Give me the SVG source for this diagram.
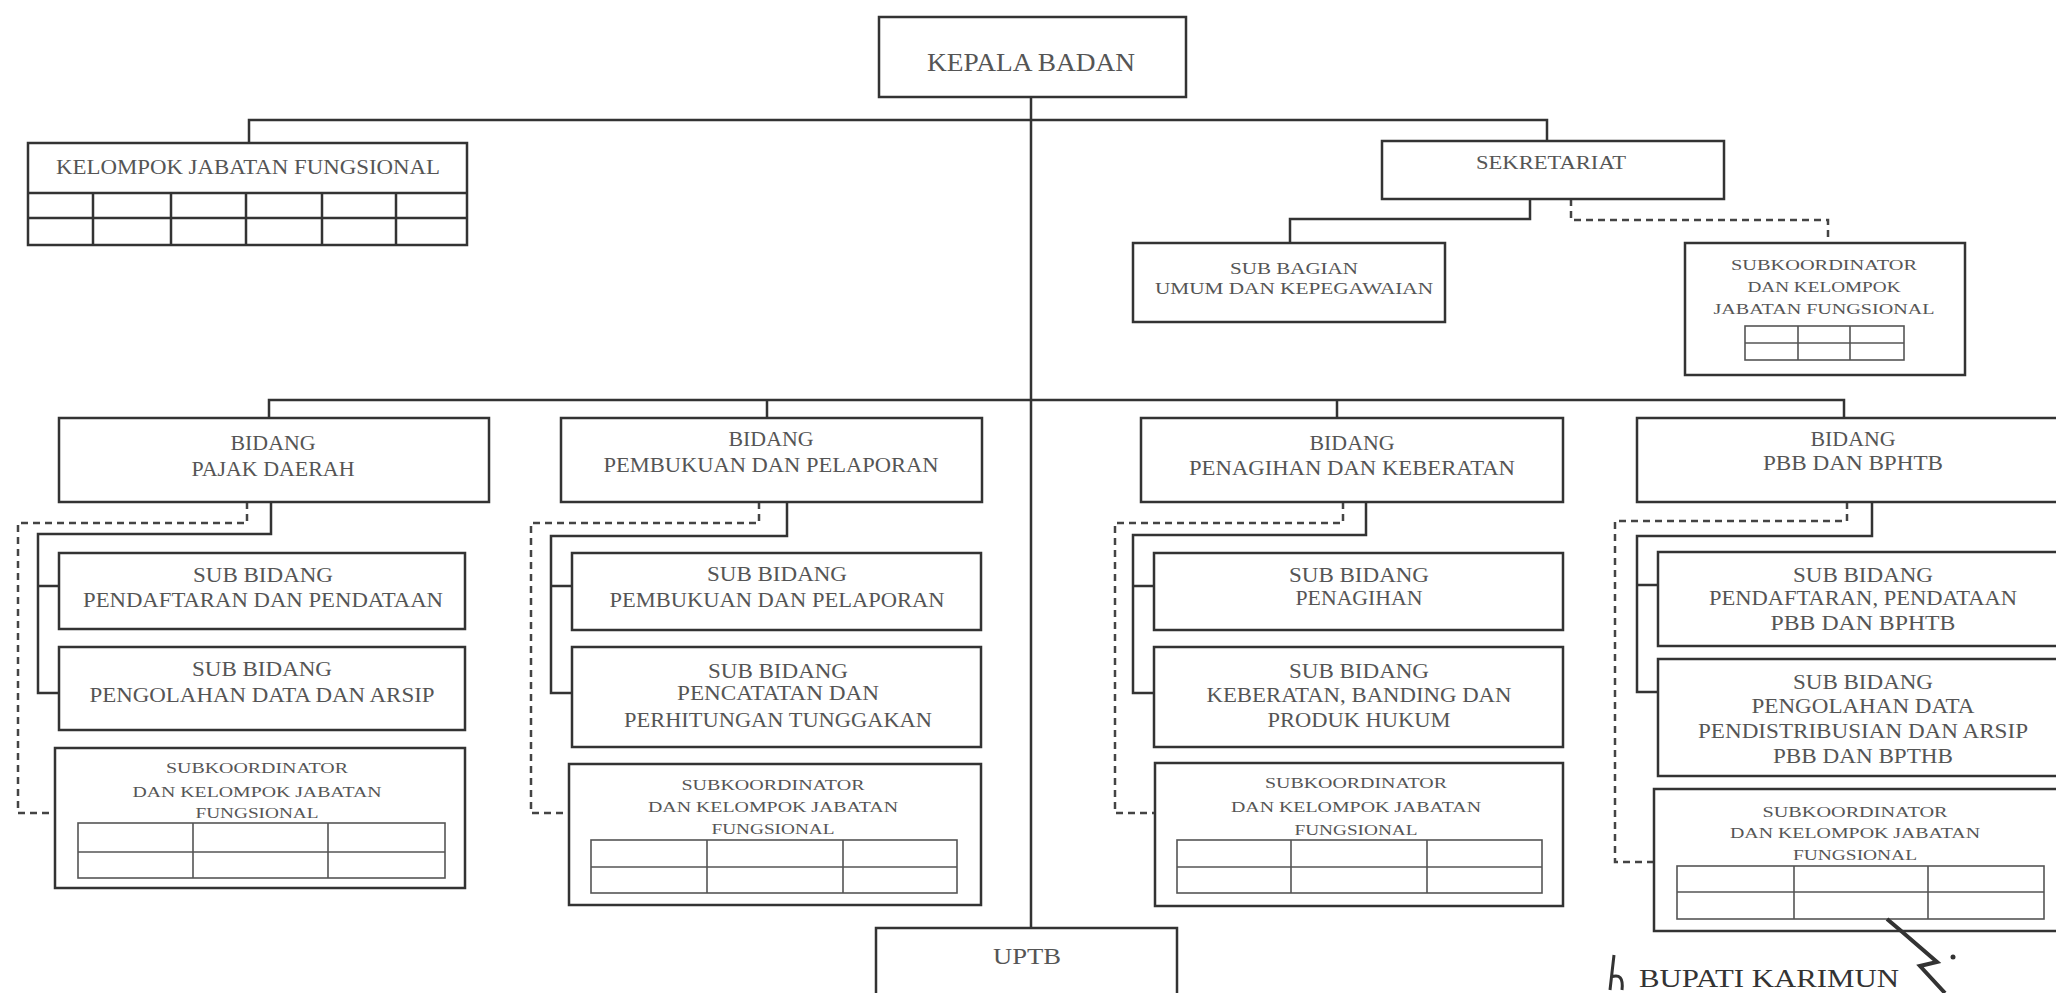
<svg xmlns="http://www.w3.org/2000/svg" width="2056" height="993" viewBox="0 0 2056 993">
<style>
.box{fill:#fff;stroke:#333;stroke-width:2.5}
.ln{fill:none;stroke:#333;stroke-width:2.5}
.dash{fill:none;stroke:#444;stroke-width:2.5;stroke-dasharray:7 5}
.tbl{fill:none;stroke:#555;stroke-width:1.6}
text{font-family:"Liberation Serif","Times New Roman",serif;fill:#555;text-anchor:middle}
.f26{font-size:26px}.f20{font-size:20px}.f18{font-size:18px}.f17{font-size:17px}.f15{font-size:15px}.f24{font-size:24px}
</style>
<rect width="2056" height="993" fill="#fff"/>
<g id="connectors">
<path class="ln" d="M1031 97V928"/>
<path class="ln" d="M249 143V120H1547V141"/>
<path class="ln" d="M1530 199V219H1290V243"/>
<path class="dash" d="M1571 199V220H1828V243"/>
<path class="ln" d="M269 418V400H1844V418M767 400V418M1337 400V418"/>
<path class="ln" d="M271 502V534H38V693H59M38 586H59"/>
<path class="dash" d="M247 502V523H18V813H55"/>
<path class="ln" d="M787 502V536H551V693H572M551 586H572"/>
<path class="dash" d="M759 502V523H531V813H569"/>
<path class="ln" d="M1366 502V535H1133V693H1154M1133 586H1154"/>
<path class="dash" d="M1343 502V523H1115V813H1155"/>
<path class="ln" d="M1872 502V536H1637V692H1658M1637 585H1658"/>
<path class="dash" d="M1847 502V521H1615V862H1654"/>
</g>
<g id="kepala-badan">
<rect class="box" x="879" y="17" width="307" height="80"/>
<text class="f26" x="1031" y="71" textLength="208" lengthAdjust="spacingAndGlyphs">KEPALA BADAN</text>
</g>
<g id="kelompok-jabatan-fungsional">
<rect class="box" x="28" y="143" width="439" height="102"/>
<path class="ln" d="M28 193H467M28 218H467M93 193V245M171 193V245M246 193V245M322 193V245M396 193V245"/>
<text class="f20" x="248" y="174" textLength="384" lengthAdjust="spacingAndGlyphs">KELOMPOK JABATAN FUNGSIONAL</text>
</g>
<g id="sekretariat">
<rect class="box" x="1382" y="141" width="342" height="58"/>
<text class="f18" x="1551" y="169" textLength="150" lengthAdjust="spacingAndGlyphs">SEKRETARIAT</text>
</g>
<g id="sub-bagian">
<rect class="box" x="1133" y="243" width="312" height="79"/>
<text class="f17" x="1294" y="274" textLength="128" lengthAdjust="spacingAndGlyphs">SUB BAGIAN</text>
<text class="f17" x="1294" y="294" textLength="278" lengthAdjust="spacingAndGlyphs">UMUM DAN KEPEGAWAIAN</text>
</g>
<g id="subkoordinator-sekretariat">
<rect class="box" x="1685" y="243" width="280" height="132"/>
<text class="f15" x="1824" y="270" textLength="186" lengthAdjust="spacingAndGlyphs">SUBKOORDINATOR</text>
<text class="f15" x="1824" y="292" textLength="153" lengthAdjust="spacingAndGlyphs">DAN KELOMPOK</text>
<text class="f15" x="1824" y="314" textLength="221" lengthAdjust="spacingAndGlyphs">JABATAN FUNGSIONAL</text>
<rect class="tbl" x="1745" y="326" width="159" height="34"/>
<path class="tbl" d="M1745 343H1904M1798 326V360M1850 326V360"/>
</g>
<g id="bidang-pajak-daerah">
<rect class="box" x="59" y="418" width="430" height="84"/>
<text class="f20" x="273" y="450" textLength="85" lengthAdjust="spacingAndGlyphs">BIDANG</text>
<text class="f20" x="273" y="476" textLength="163" lengthAdjust="spacingAndGlyphs">PAJAK DAERAH</text>
</g>
<g id="bidang-pembukuan">
<rect class="box" x="561" y="418" width="421" height="84"/>
<text class="f20" x="771" y="446" textLength="85" lengthAdjust="spacingAndGlyphs">BIDANG</text>
<text class="f20" x="771" y="472" textLength="335" lengthAdjust="spacingAndGlyphs">PEMBUKUAN DAN PELAPORAN</text>
</g>
<g id="bidang-penagihan">
<rect class="box" x="1141" y="418" width="422" height="84"/>
<text class="f20" x="1352" y="450" textLength="85" lengthAdjust="spacingAndGlyphs">BIDANG</text>
<text class="f20" x="1352" y="475" textLength="326" lengthAdjust="spacingAndGlyphs">PENAGIHAN DAN KEBERATAN</text>
</g>
<g id="bidang-pbb">
<rect class="box" x="1637" y="418" width="440" height="84"/>
<text class="f20" x="1853" y="446" textLength="85" lengthAdjust="spacingAndGlyphs">BIDANG</text>
<text class="f20" x="1853" y="470" textLength="180" lengthAdjust="spacingAndGlyphs">PBB DAN BPHTB</text>
</g>
<g id="sub-pendaftaran">
<rect class="box" x="59" y="553" width="406" height="76"/>
<text class="f20" x="263" y="582" textLength="140" lengthAdjust="spacingAndGlyphs">SUB BIDANG</text>
<text class="f20" x="263" y="607" textLength="360" lengthAdjust="spacingAndGlyphs">PENDAFTARAN DAN PENDATAAN</text>
</g>
<g id="sub-pengolahan">
<rect class="box" x="59" y="647" width="406" height="83"/>
<text class="f20" x="262" y="676" textLength="140" lengthAdjust="spacingAndGlyphs">SUB BIDANG</text>
<text class="f20" x="262" y="702" textLength="345" lengthAdjust="spacingAndGlyphs">PENGOLAHAN DATA DAN ARSIP</text>
</g>
<g id="subkoordinator-1">
<rect class="box" x="55" y="748" width="410" height="140"/>
<text class="f15" x="257" y="773" textLength="182" lengthAdjust="spacingAndGlyphs">SUBKOORDINATOR</text>
<text class="f15" x="257" y="797" textLength="249" lengthAdjust="spacingAndGlyphs">DAN KELOMPOK JABATAN</text>
<text class="f15" x="257" y="818" textLength="123" lengthAdjust="spacingAndGlyphs">FUNGSIONAL</text>
<rect class="tbl" x="78" y="823" width="367" height="55"/>
<path class="tbl" d="M78 852H445M193 823V878M328 823V878"/>
</g>
<g id="sub-pembukuan">
<rect class="box" x="572" y="553" width="409" height="77"/>
<text class="f20" x="777" y="581" textLength="140" lengthAdjust="spacingAndGlyphs">SUB BIDANG</text>
<text class="f20" x="777" y="607" textLength="335" lengthAdjust="spacingAndGlyphs">PEMBUKUAN DAN PELAPORAN</text>
</g>
<g id="sub-pencatatan">
<rect class="box" x="572" y="647" width="409" height="100"/>
<text class="f20" x="778" y="678" textLength="140" lengthAdjust="spacingAndGlyphs">SUB BIDANG</text>
<text class="f20" x="778" y="700" textLength="202" lengthAdjust="spacingAndGlyphs">PENCATATAN DAN</text>
<text class="f20" x="778" y="727" textLength="308" lengthAdjust="spacingAndGlyphs">PERHITUNGAN TUNGGAKAN</text>
</g>
<g id="subkoordinator-2">
<rect class="box" x="569" y="764" width="412" height="141"/>
<text class="f15" x="773" y="790" textLength="183" lengthAdjust="spacingAndGlyphs">SUBKOORDINATOR</text>
<text class="f15" x="773" y="812" textLength="250" lengthAdjust="spacingAndGlyphs">DAN KELOMPOK JABATAN</text>
<text class="f15" x="773" y="834" textLength="123" lengthAdjust="spacingAndGlyphs">FUNGSIONAL</text>
<rect class="tbl" x="591" y="840" width="366" height="53"/>
<path class="tbl" d="M591 867H957M707 840V893M843 840V893"/>
</g>
<g id="sub-penagihan">
<rect class="box" x="1154" y="553" width="409" height="77"/>
<text class="f20" x="1359" y="582" textLength="140" lengthAdjust="spacingAndGlyphs">SUB BIDANG</text>
<text class="f20" x="1359" y="605" textLength="127" lengthAdjust="spacingAndGlyphs">PENAGIHAN</text>
</g>
<g id="sub-keberatan">
<rect class="box" x="1154" y="647" width="409" height="100"/>
<text class="f20" x="1359" y="678" textLength="140" lengthAdjust="spacingAndGlyphs">SUB BIDANG</text>
<text class="f20" x="1359" y="702" textLength="305" lengthAdjust="spacingAndGlyphs">KEBERATAN, BANDING DAN</text>
<text class="f20" x="1359" y="727" textLength="183" lengthAdjust="spacingAndGlyphs">PRODUK HUKUM</text>
</g>
<g id="subkoordinator-3">
<rect class="box" x="1155" y="763" width="408" height="143"/>
<text class="f15" x="1356" y="788" textLength="182" lengthAdjust="spacingAndGlyphs">SUBKOORDINATOR</text>
<text class="f15" x="1356" y="812" textLength="250" lengthAdjust="spacingAndGlyphs">DAN KELOMPOK JABATAN</text>
<text class="f15" x="1356" y="835" textLength="123" lengthAdjust="spacingAndGlyphs">FUNGSIONAL</text>
<rect class="tbl" x="1177" y="840" width="365" height="53"/>
<path class="tbl" d="M1177 867H1542M1291 840V893M1427 840V893"/>
</g>
<g id="sub-pendaftaran-pbb">
<rect class="box" x="1658" y="552" width="420" height="94"/>
<text class="f20" x="1863" y="582" textLength="140" lengthAdjust="spacingAndGlyphs">SUB BIDANG</text>
<text class="f20" x="1863" y="605" textLength="308" lengthAdjust="spacingAndGlyphs">PENDAFTARAN, PENDATAAN</text>
<text class="f20" x="1863" y="630" textLength="185" lengthAdjust="spacingAndGlyphs">PBB DAN BPHTB</text>
</g>
<g id="sub-pengolahan-pbb">
<rect class="box" x="1658" y="659" width="420" height="117"/>
<text class="f20" x="1863" y="689" textLength="140" lengthAdjust="spacingAndGlyphs">SUB BIDANG</text>
<text class="f20" x="1863" y="713" textLength="223" lengthAdjust="spacingAndGlyphs">PENGOLAHAN DATA</text>
<text class="f20" x="1863" y="738" textLength="330" lengthAdjust="spacingAndGlyphs">PENDISTRIBUSIAN DAN ARSIP</text>
<text class="f20" x="1863" y="763" textLength="180" lengthAdjust="spacingAndGlyphs">PBB DAN BPTHB</text>
</g>
<g id="subkoordinator-4">
<rect class="box" x="1654" y="789" width="420" height="142"/>
<text class="f15" x="1855" y="817" textLength="185" lengthAdjust="spacingAndGlyphs">SUBKOORDINATOR</text>
<text class="f15" x="1855" y="838" textLength="250" lengthAdjust="spacingAndGlyphs">DAN KELOMPOK JABATAN</text>
<text class="f15" x="1855" y="860" textLength="124" lengthAdjust="spacingAndGlyphs">FUNGSIONAL</text>
<rect class="tbl" x="1677" y="866" width="367" height="53"/>
<path class="tbl" d="M1677 892H2044M1794 866V919M1928 866V919"/>
</g>
<g id="uptb">
<rect class="box" x="876" y="928" width="301" height="70"/>
<text class="f24" x="1027" y="964" textLength="68" lengthAdjust="spacingAndGlyphs">UPTB</text>
</g>
<g id="signature">
<text x="1639" y="987" style="font-size:26px;fill:#333;text-anchor:start" textLength="260" lengthAdjust="spacingAndGlyphs">BUPATI KARIMUN</text>
<path d="M1614 955L1610 990M1611 977Q1624 972 1622 990" fill="none" stroke="#333" stroke-width="3"/>
<path d="M1887 919L1900 930L1937 962L1920 966L1945 993" fill="none" stroke="#333" stroke-width="4"/>
<circle cx="1953" cy="957" r="2.5" fill="#333"/>
</g>
</svg>
